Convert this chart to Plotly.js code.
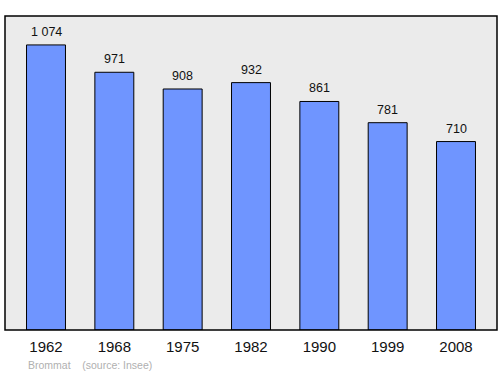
<!DOCTYPE html>
<html><head><meta charset="utf-8">
<script src="https://cdn.plot.ly/plotly-3.0.1.min.js"></script>
<style>body{margin:0;background:#fff}#c{width:500px;height:374px}</style>
</head><body><div id="c"></div>
<script>
const years = ["1962","1968","1975","1982","1990","1999","2008"];
const population = [1074, 971, 908, 932, 861, 781, 710];
const labels = ["1 074","971","908","932","861","781","710"];

const trace = {
  type: "bar", x: years, y: population,
  marker: {color: "#6f95ff", line: {color: "#000", width: 1}},
  width: 0.57, hoverinfo: "none"
};
const annotations = years.map((yr, i) => ({
  x: i, y: population[i], xref: "x", yref: "y", text: labels[i],
  showarrow: false, yanchor: "bottom", yshift: 4,
  font: {family: "Liberation Sans, Arial, sans-serif", size: 12.5, color: "#111"}
}));
annotations.push({
  xref: "paper", yref: "paper", x: 0.043, y: -0.112, xanchor: "left", yanchor: "middle",
  text: "Brommat&nbsp;&nbsp;&nbsp;&nbsp;(source: Insee)", showarrow: false,
  font: {family: "Liberation Sans, Arial, sans-serif", size: 10.5, color: "#b0b0b0"}
});
const layout = {
  width: 500, height: 374,
  margin: {l: 5, r: 3, t: 16, b: 44},
  paper_bgcolor: "#fff", plot_bgcolor: "#ebebeb",
  showlegend: false,
  xaxis: {type: "category", range: [-0.6, 6.6], showgrid: false, zeroline: false,
    ticks: "", showline: false, fixedrange: true, ticklabelstandoff: 6,
    tickfont: {family: "Liberation Sans, Arial, sans-serif", size: 15, color: "#111"}},
  yaxis: {range: [0, 1183], showgrid: false, zeroline: false, showticklabels: false,
    ticks: "", showline: false, fixedrange: true},
  shapes: [{type: "rect", xref: "paper", yref: "paper", x0: 0, x1: 1, y0: 0, y1: 1,
    line: {color: "#000", width: 1.5}, layer: "above"}],
  annotations: annotations
};
Plotly.newPlot("c", [trace], layout, {staticPlot: true, displayModeBar: false});
</script></body></html>
